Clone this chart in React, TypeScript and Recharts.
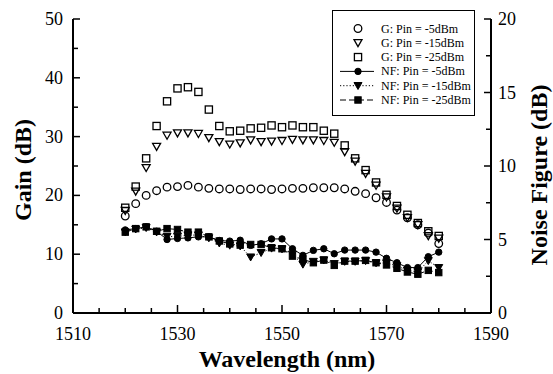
import { ComposedChart, Line, XAxis, YAxis, Legend } from 'recharts';

// wavelength points (nm)
const WAVELENGTH = [
  1520, 1522, 1524, 1526, 1528, 1530, 1532, 1534, 1536, 1538, 1540, 1542, 1544, 1546, 1548, 1550,
  1552, 1554, 1556, 1558, 1560, 1562, 1564, 1566, 1568, 1570, 1572, 1574, 1576, 1578, 1580,
];

// gain (dB), left axis
const GAIN_M5 = [
  16.5, 18.6, 20.0, 20.8, 21.4, 21.5, 21.7, 21.4, 21.2, 21.1, 21.1, 21.0, 21.1, 21.1, 21.0, 21.1,
  21.2, 21.2, 21.3, 21.3, 21.3, 21.1, 20.7, 20.3, 19.6, 18.8, 17.5, 16.2, 15.0, 13.6, 11.8,
];
const GAIN_M15 = [
  17.4, 20.7, 24.7, 28.3, 30.2, 30.6, 30.6, 30.5, 29.8, 29.1, 28.7, 28.9, 29.4, 29.1, 29.2, 29.3,
  29.5, 29.4, 29.4, 29.3, 29.0, 27.4, 25.8, 23.7, 21.7, 19.7, 17.8, 16.2, 15.0, 13.1, 12.7,
];
const GAIN_M25 = [
  17.9, 21.5, 26.3, 31.8, 36.0, 38.2, 38.4, 37.6, 34.6, 31.8, 30.9, 31.0, 31.4, 31.5, 31.9, 31.6,
  31.9, 31.6, 31.6, 31.0, 30.5, 28.5, 26.3, 24.3, 22.2, 20.1, 18.2, 16.7, 15.3, 13.9, 13.1,
];

// noise figure (dB), right axis
const NF_M5 = [
  5.65, 5.74, 5.86, 5.56, 5.0, 5.07, 5.11, 5.18, 5.18, 4.93, 4.89, 4.95, 4.6, 4.71, 5.04, 5.04,
  4.37, 3.92, 4.26, 4.37, 4.03, 4.28, 4.28, 4.28, 4.14, 3.72, 3.42, 3.09, 3.09, 3.83, 4.14,
];
const NF_M15 = [
  5.5, 5.7, 5.8, 5.5, 5.2, 5.2, 5.3, 5.3, 5.1, 4.75, 4.6, 4.55, 3.8, 4.1, 4.4, 4.35,
  3.99, 3.31, 3.5, 3.6, 3.35, 3.5, 3.5, 3.55, 3.4, 3.4, 3.2, 2.9, 2.8, 3.55, 3.08,
];
const NF_M25 = [
  5.5, 5.74, 5.86, 5.56, 5.74, 5.68, 5.5, 5.5, 5.18, 4.9, 4.7, 4.62, 4.66, 4.66, 4.44, 4.37,
  3.87, 3.65, 3.42, 3.6, 3.24, 3.53, 3.53, 3.58, 3.42, 3.27, 3.04, 2.79, 2.64, 2.9, 2.75,
];

const X_TICKS = [1510, 1515, 1520, 1525, 1530, 1535, 1540, 1545, 1550, 1555, 1560, 1565, 1570, 1575, 1580, 1585, 1590];
const X_LABELS = [1510, 1530, 1550, 1570, 1590];
const GAIN_TICKS = [0, 5, 10, 15, 20, 25, 30, 35, 40, 45, 50];
const GAIN_LABELS = [0, 10, 20, 30, 40, 50];
const NF_TICKS = [0, 2.5, 5, 7.5, 10, 12.5, 15, 17.5, 20];
const NF_LABELS = [0, 5, 10, 15, 20];

const LEGEND_LABELS = [
  'G: Pin = -5dBm',
  'G: Pin = -15dBm',
  'G: Pin = -25dBm',
  'NF: Pin = -5dBm',
  'NF: Pin = -15dBm',
  'NF: Pin = -25dBm',
];

const data = WAVELENGTH.map((w, i) => ({
  w,
  g5: GAIN_M5[i],
  g15: GAIN_M15[i],
  g25: GAIN_M25[i],
  nf5: NF_M5[i],
  nf15: NF_M15[i],
  nf25: NF_M25[i],
}));

const FONT = 'Liberation Serif, Times New Roman, Times, DejaVu Serif, serif';
const PLOT = { left: 73, right: 491, top: 19, bottom: 313 };

type Shape = 'circle' | 'triangle' | 'square';

// series styling, same order as LEGEND_LABELS
const SERIES: { key: string; axis: string; shape: Shape; filled: boolean; dash: string | null }[] = [
  { key: 'g5', axis: 'g', shape: 'circle', filled: false, dash: null },
  { key: 'g15', axis: 'g', shape: 'triangle', filled: false, dash: null },
  { key: 'g25', axis: 'g', shape: 'square', filled: false, dash: null },
  { key: 'nf5', axis: 'nf', shape: 'circle', filled: true, dash: '' },
  { key: 'nf15', axis: 'nf', shape: 'triangle', filled: true, dash: '1.2 2' },
  { key: 'nf25', axis: 'nf', shape: 'square', filled: true, dash: '6 3' },
];

function Marker({ shape, filled, cx, cy }: { shape: Shape; filled: boolean; cx: number; cy: number }) {
  const fill = filled ? '#000' : 'none';
  const sw = filled ? 1 : 1.3;
  if (shape === 'circle') {
    return <circle cx={cx} cy={cy} r={filled ? 3.2 : 3.8} fill={fill} stroke="#000" strokeWidth={sw} />;
  }
  if (shape === 'triangle') {
    const s = 4;
    return (
      <polygon
        points={`${cx - s},${cy - s * 0.8} ${cx + s},${cy - s * 0.8} ${cx},${cy + s * 0.95}`}
        fill={fill}
        stroke="#000"
        strokeWidth={sw}
      />
    );
  }
  const h = filled ? 3.2 : 3.6;
  return <rect x={cx - h} y={cy - h} width={h * 2} height={h * 2} fill={fill} stroke="#000" strokeWidth={sw} />;
}

const tickText = { fontFamily: FONT, fontSize: 18, fill: '#000' };

function XTick({ x, payload }: any) {
  const major = X_LABELS.includes(payload.value);
  return (
    <g>
      <line x1={x} x2={x} y1={PLOT.bottom} y2={PLOT.bottom - (major ? 8 : 5)} stroke="#000" strokeWidth={1.5} />
      {major && (
        <text x={x} y={PLOT.bottom + 27} textAnchor="middle" style={tickText}>
          {payload.value}
        </text>
      )}
    </g>
  );
}

function GainTick({ y, payload }: any) {
  const major = GAIN_LABELS.includes(payload.value);
  return (
    <g>
      <line x1={PLOT.left} x2={PLOT.left + (major ? 7 : 5)} y1={y} y2={y} stroke="#000" strokeWidth={1.5} />
      {major && (
        <text x={PLOT.left - 10} y={y + 6} textAnchor="end" style={tickText}>
          {payload.value}
        </text>
      )}
    </g>
  );
}

function NfTick({ y, payload }: any) {
  const major = NF_LABELS.includes(payload.value);
  return (
    <g>
      <line x1={PLOT.right} x2={PLOT.right - (major ? 7 : 5)} y1={y} y2={y} stroke="#000" strokeWidth={1.5} />
      {major && (
        <text x={PLOT.right + 7} y={y + 6} textAnchor="start" style={tickText}>
          {payload.value}
        </text>
      )}
    </g>
  );
}

const titleStyle = { fontFamily: FONT, fontWeight: 700, fontSize: 24, fill: '#000' };

function LegendBox() {
  return (
    <div style={{ width: 143, height: 106, background: '#fff', border: '1px solid #000', boxSizing: 'border-box' }}>
      <svg width={141} height={104} style={{ display: 'block' }}>
        {SERIES.map((s, i) => {
          const y = 17.5 + i * 14.3;
          return (
            <g key={s.key}>
              {s.dash !== null && (
                <line x1={7} x2={41} y1={y} y2={y} stroke="#000" strokeWidth={1} strokeDasharray={s.dash || undefined} />
              )}
              <Marker shape={s.shape} filled={s.filled} cx={25} cy={y} />
              <text x={48} y={y + 4} style={{ fontFamily: FONT, fontSize: 12, fill: '#000' }}>
                {LEGEND_LABELS[i]}
              </text>
            </g>
          );
        })}
      </svg>
    </div>
  );
}

export default function App() {
  return (
    <div style={{ position: 'absolute', left: 0, top: 0, background: '#fff', fontFamily: FONT }}>
      <ComposedChart width={553} height={374} data={data} margin={{ top: 19, right: 0, bottom: 0, left: 0 }}>
        <XAxis
          dataKey="w"
          type="number"
          domain={[1510, 1590]}
          ticks={X_TICKS}
          interval={0}
          height={61}
          tickLine={false}
          tick={<XTick />}
          axisLine={{ stroke: '#000', strokeWidth: 2 }}
          label={() => (
            <text x={287} y={367} textAnchor="middle" style={titleStyle}>
              Wavelength (nm)
            </text>
          )}
        />
        <XAxis
          xAxisId="top"
          orientation="top"
          type="number"
          domain={[1510, 1590]}
          height={0}
          tick={false}
          tickLine={false}
          axisLine={{ stroke: '#000', strokeWidth: 2 }}
        />
        <YAxis
          yAxisId="g"
          domain={[0, 50]}
          ticks={GAIN_TICKS}
          interval={0}
          width={73}
          tickLine={false}
          tick={<GainTick />}
          axisLine={{ stroke: '#000', strokeWidth: 2 }}
          label={() => (
            <text x={31} y={170} textAnchor="middle" transform="rotate(-90 31 170)" style={titleStyle}>
              Gain (dB)
            </text>
          )}
        />
        <YAxis
          yAxisId="nf"
          orientation="right"
          domain={[0, 20]}
          ticks={NF_TICKS}
          interval={0}
          width={62}
          tickLine={false}
          tick={<NfTick />}
          axisLine={{ stroke: '#000', strokeWidth: 2 }}
          label={() => (
            <text x={547} y={175} textAnchor="middle" transform="rotate(-90 547 175)" style={titleStyle}>
              Noise Figure (dB)
            </text>
          )}
        />
        {SERIES.map((s) => (
          <Line
            key={s.key}
            yAxisId={s.axis}
            dataKey={s.key}
            type="linear"
            stroke={s.dash === null ? 'none' : '#000'}
            strokeWidth={1}
            strokeDasharray={s.dash || undefined}
            isAnimationActive={false}
            activeDot={false}
            legendType="none"
            dot={(p: any) => (
              <Marker key={`${s.key}-${p.index}`} shape={s.shape} filled={s.filled} cx={p.cx} cy={p.cy} />
            )}
          />
        ))}
        <Legend
          layout="horizontal"
          verticalAlign="middle"
          align="center"
          content={() => <LegendBox />}
          wrapperStyle={{ left: 332, top: 10, width: 143, height: 106 }}
        />
      </ComposedChart>
    </div>
  );
}
